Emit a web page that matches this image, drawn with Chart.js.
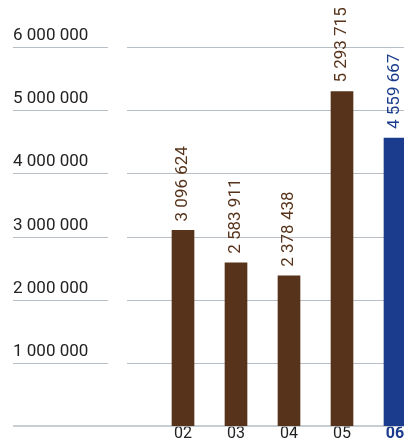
<!DOCTYPE html>
<html lang="sv">
<head>
    <meta charset="UTF-8">
    <title>Stapeldiagram 02–06</title>
    <script src="https://cdn.jsdelivr.net/npm/chart.js"></script>
    <style>
        html, body {
            margin: 0;
            padding: 0;
            background: #fff;
            overflow: hidden;
        }
        #wrap {
            width: 404px;
            height: 442px;
            overflow: hidden;
        }
    </style>
</head>
<body>

    <div id="wrap">
        <canvas id="barChart" width="430" height="442"></canvas>
    </div>

    <script>
        // data
        const years = ['02', '03', '04', '05', '06'];
        const values = [3096624, 2583911, 2378438, 5293715, 4559667];
        const valueLabels = ['3 096 624', '2 583 911', '2 378 438', '5 293 715', '4 559 667'];
        const yTicks = [1000000, 2000000, 3000000, 4000000, 5000000, 6000000];
        const yTickLabels = ['1 000 000', '2 000 000', '3 000 000', '4 000 000', '5 000 000', '6 000 000'];

        const brown = '#57331b';
        const blue = '#1b3c8d';
        const gridColor = '#b7bec6';
        const textColor = '#222222';
        const fontFamily = 'Roboto, "Liberation Sans", Arial, sans-serif';

        // sista året markeras i blått
        const barColors = values.map((v, i) => i === values.length - 1 ? blue : brown);

        // egna stödlinjer + y-etiketter (med glapp efter etiketterna)
        const gridPlugin = {
            id: 'gridPlugin',
            beforeDatasetsDraw(chart) {
                const ctx = chart.ctx;
                const y = chart.scales.y;
                const w = chart.width;
                ctx.save();
                ctx.strokeStyle = gridColor;
                ctx.fillStyle = textColor;
                ctx.font = '17px ' + fontFamily;
                ctx.textAlign = 'left';
                ctx.textBaseline = 'alphabetic';
                yTicks.forEach((v, i) => {
                    const py = Math.round(y.getPixelForValue(v)) + 0.5;
                    ctx.lineWidth = 1;
                    ctx.beginPath();
                    ctx.moveTo(13, py);
                    ctx.lineTo(108, py);
                    ctx.moveTo(127, py);
                    ctx.lineTo(w, py);
                    ctx.stroke();
                    ctx.fillText(yTickLabels[i], 13, py - 7.5);
                });
                // nollinje
                const py0 = y.getPixelForValue(0);
                ctx.lineWidth = 1.5;
                ctx.beginPath();
                ctx.moveTo(13, py0);
                ctx.lineTo(w, py0);
                ctx.stroke();
                ctx.restore();
            },
            afterDatasetsDraw(chart) {
                const ctx = chart.ctx;
                const meta = chart.getDatasetMeta(0);
                ctx.save();
                ctx.font = '17px ' + fontFamily;
                ctx.textAlign = 'left';
                ctx.textBaseline = 'middle';
                meta.data.forEach((bar, i) => {
                    ctx.save();
                    ctx.translate(bar.x, bar.y - 9);
                    ctx.rotate(-Math.PI / 2);
                    ctx.fillStyle = barColors[i];
                    ctx.fillText(valueLabels[i], 0, 0);
                    ctx.restore();
                });
                ctx.restore();
            }
        };

        new Chart(document.getElementById('barChart').getContext('2d'), {
            type: 'bar',
            data: {
                labels: years,
                datasets: [{
                    data: values,
                    backgroundColor: barColors,
                    barThickness: 22
                }]
            },
            options: {
                responsive: false,
                animation: false,
                devicePixelRatio: 1,
                layout: {
                    padding: { top: 47, left: 156.5, right: 8.5, bottom: 0 }
                },
                plugins: {
                    legend: { display: false },
                    tooltip: { enabled: false }
                },
                scales: {
                    y: {
                        display: false,
                        min: 0,
                        max: 6000000
                    },
                    x: {
                        grid: { display: false, drawTicks: false },
                        border: { display: false },
                        ticks: {
                            padding: 0,
                            color: ctx => ctx.index === years.length - 1 ? blue : textColor,
                            font: ctx => ({
                                family: fontFamily,
                                size: 16,
                                lineHeight: 1,
                                weight: ctx.index === years.length - 1 ? 'bold' : 'normal'
                            })
                        }
                    }
                }
            },
            plugins: [gridPlugin]
        });
    </script>

</body>
</html>
